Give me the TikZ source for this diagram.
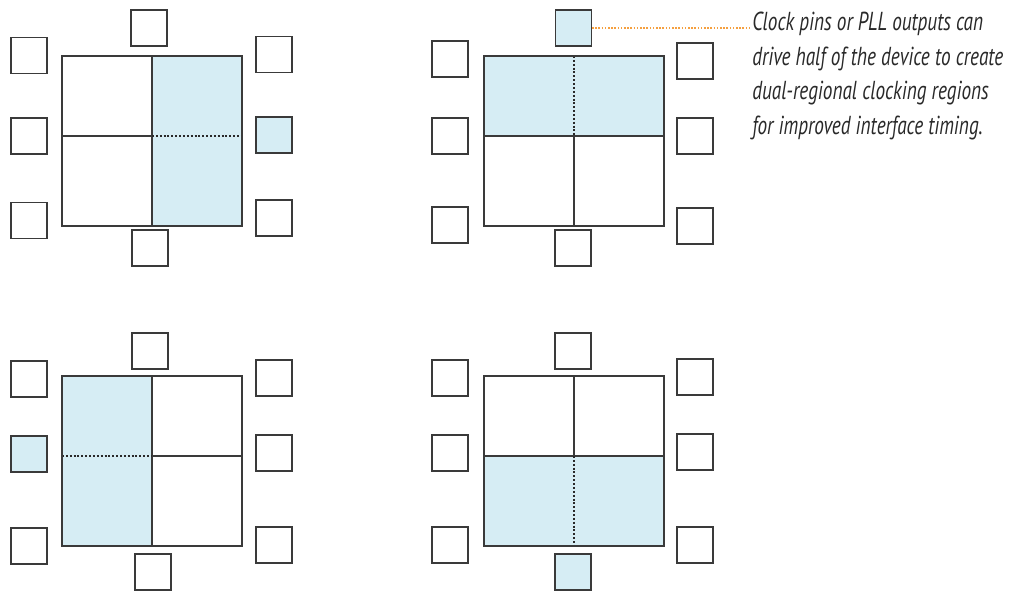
\documentclass[tikz,border=0pt]{standalone}
\usepackage{fontspec}
\newfontfamily\notefont[FakeStretch=0.74]{PT Sans}
\definecolor{clkblue}{HTML}{D6EDF4}
\definecolor{edge}{HTML}{3A3A3A}
\definecolor{leader}{HTML}{F5A040}
\tikzset{
  pin/.style={draw=edge, line width=0.8pt, minimum size=27pt, inner sep=0pt},
  lit/.style={fill=clkblue},
  split/.style={draw=edge, line width=0.8pt},
  hop/.style={draw=edge!70!black, line width=2pt, dash pattern=on 1.5pt off 1.4pt},
}
\begin{document}
\begin{tikzpicture}[x=0.75pt,y=-0.75pt]
\useasboundingbox (0,0) rectangle (1019,591);
\fill[clkblue] (152,56) rectangle (242,226);
\draw[split] (152,56) -- (152,226);
\draw[split] (62,136) -- (152,136);
\draw[hop] (152,136) -- (242,136);
\draw[split] (62,56) rectangle (242,226);
\node[pin] (a-n) at (149,28) {};
\node[pin] (a-s) at (150,248) {};
\node[pin] (a-w1) at (29,55.5) {};
\node[pin] (a-w2) at (29,136) {};
\node[pin] (a-w3) at (29,220.5) {};
\node[pin] (a-e1) at (274,54.5) {};
\node[pin,lit] (a-e2) at (274,135) {};
\node[pin] (a-e3) at (274,218) {};
\fill[clkblue] (484,56) rectangle (664,136);
\draw[split] (484,136) -- (664,136);
\draw[hop] (574,56) -- (574,136);
\draw[split] (574,136) -- (574,226);
\draw[split] (484,56) rectangle (664,226);
\node[pin,lit] (b-n) at (573.5,28) {};
\node[pin] (b-s) at (573,248) {};
\node[pin] (b-w1) at (450,59) {};
\node[pin] (b-w2) at (450,136) {};
\node[pin] (b-w3) at (450,225) {};
\node[pin] (b-e1) at (695,61) {};
\node[pin] (b-e2) at (695,136) {};
\node[pin] (b-e3) at (695,226) {};
\fill[clkblue] (62,376) rectangle (152,546);
\draw[split] (152,376) -- (152,546);
\draw[hop] (62,456) -- (152,456);
\draw[split] (152,456) -- (242,456);
\draw[split] (62,376) rectangle (242,546);
\node[pin] (c-n) at (150,351) {};
\node[pin] (c-s) at (153,572) {};
\node[pin] (c-w1) at (29,379) {};
\node[pin,lit] (c-w2) at (29,454) {};
\node[pin] (c-w3) at (29,546) {};
\node[pin] (c-e1) at (274,378) {};
\node[pin] (c-e2) at (274,453) {};
\node[pin] (c-e3) at (274,545) {};
\fill[clkblue] (484,456) rectangle (664,546);
\draw[split] (484,456) -- (664,456);
\draw[split] (574,376) -- (574,456);
\draw[hop] (574,456) -- (574,546);
\draw[split] (484,376) rectangle (664,546);
\node[pin] (d-n) at (573,351) {};
\node[pin,lit] (d-s) at (573,572) {};
\node[pin] (d-w1) at (450,378) {};
\node[pin] (d-w2) at (450,453) {};
\node[pin] (d-w3) at (450,545) {};
\node[pin] (d-e1) at (695,377) {};
\node[pin] (d-e2) at (695,452) {};
\node[pin] (d-e3) at (695,545) {};
\node[anchor=north west, align=left, inner sep=0pt, text=edge!70!black,
  font=\notefont\itshape\fontsize{19.5}{25.9}\selectfont] (note) at (752,12)
  {Clock pins or PLL outputs can\\drive half of the device to create\\dual-regional clocking regions\\for improved interface timing.};
\draw[leader, line width=1pt, dash pattern=on 1.2pt off 1.2pt] (b-n.east) -- (b-n.east -| note.west);
\end{tikzpicture}
\end{document}
